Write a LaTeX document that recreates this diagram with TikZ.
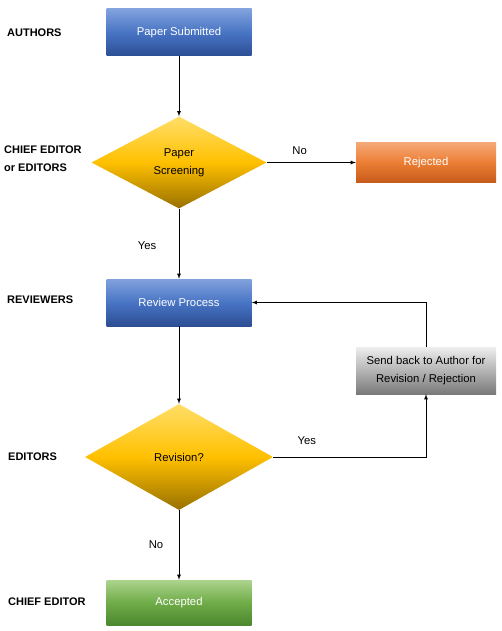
\documentclass[tikz,border=0pt]{standalone}
\usepackage{fontspec}
\setmainfont{Liberation Sans}
\usetikzlibrary{arrows,shapes.geometric}
\definecolor{blueTop}{RGB}{130,162,222}
\definecolor{blueMid}{RGB}{72,116,196}
\definecolor{blueBot}{RGB}{44,78,148}
\definecolor{orangeTop}{RGB}{245,168,120}
\definecolor{orangeMid}{RGB}{236,126,52}
\definecolor{orangeBot}{RGB}{198,90,26}
\definecolor{grayTop}{RGB}{238,238,238}
\definecolor{grayBot}{RGB}{122,122,122}
\definecolor{greenTop}{RGB}{172,212,142}
\definecolor{greenMid}{RGB}{112,172,72}
\definecolor{greenBot}{RGB}{76,136,46}
\definecolor{yellowTop}{RGB}{255,222,104}
\definecolor{yellowMid}{RGB}{255,192,0}
\definecolor{yellowBot}{RGB}{152,112,0}
\tikzset{>=latex,
         box/.style={rectangle, minimum width=145pt, minimum height=47pt,
                     inner sep=2pt, align=center, font=\fontsize{11.3}{18}\selectfont},
         bluebox/.style={box, top color=blueTop, bottom color=blueBot,
                         middle color=blueMid, text=white},
         orangebox/.style={box, minimum width=140pt, minimum height=40pt,
                           top color=orangeTop, bottom color=orangeBot,
                           middle color=orangeMid, text=white},
         graybox/.style={box, minimum width=140pt,
                         top color=grayTop, bottom color=grayBot},
         greenbox/.style={box, minimum height=45pt, top color=greenTop,
                          bottom color=greenBot, middle color=greenMid, text=white},
         decision/.style={diamond, inner sep=0pt, align=center,
                          font=\fontsize{11.3}{18}\selectfont, top color=yellowTop,
                          bottom color=yellowBot, middle color=yellowMid},
         role/.style={anchor=west, inner sep=0pt, align=left,
                      font=\bfseries\fontsize{11}{18}\selectfont},
         lbl/.style={font=\fontsize{11.3}{13}\selectfont}}

\begin{document}
\begin{tikzpicture}[x=1pt,y=-1pt]
\useasboundingbox (0,0) rectangle (501,631);
% who does what
\node[role] (rAuthors)   at (7,33)  {AUTHORS};
\node[role] (rChief)     at (4,159) {CHIEF EDITOR\\or EDITORS};
\node[role] (rReviewers) at (7,300) {REVIEWERS};
\node[role] (rEditors)   at (8,457) {EDITORS};
\node[role] (rChiefEd)   at (8,602) {CHIEF EDITOR};
% the flow
\node[bluebox]   (submit)   at (179,32.5)  {Paper Submitted};
\node[decision, minimum width=175pt, minimum height=92pt]
                 (screen)   at (179,162.5) {Paper\\Screening};
\node[orangebox] (reject)   at (426,162.5) {Rejected};
\node[bluebox]   (review)   at (179,302.5) {Review Process};
\node[graybox]   (sendback) at (426,370.5) {Send back to Author for\\Revision / Rejection};
\node[decision, minimum width=188pt, minimum height=106pt]
                 (revise)   at (179,457)   {Revision?};
\node[greenbox]  (accept)   at (179,602.5) {Accepted};
\path[->,line width=0.8pt]
(submit) edge (screen)
(screen) edge node[lbl, pos=0.37, above=4pt] (lNo1) {No} (reject)
(screen) edge node[lbl, pos=0.53, left=19pt] (lYes1) {Yes} (review)
(review) edge (revise)
(revise) edge node[lbl, pos=0.5, left=12pt] (lNo2) {No} (accept);
% loop back for revision
\draw[->,line width=0.8pt] (revise.east) -| node[lbl, pos=0.11, above=9pt] (lYes2) {Yes} (sendback.south);
\draw[->,line width=0.8pt] (sendback.north) |- (review.east);
\end{tikzpicture}
\end{document}
